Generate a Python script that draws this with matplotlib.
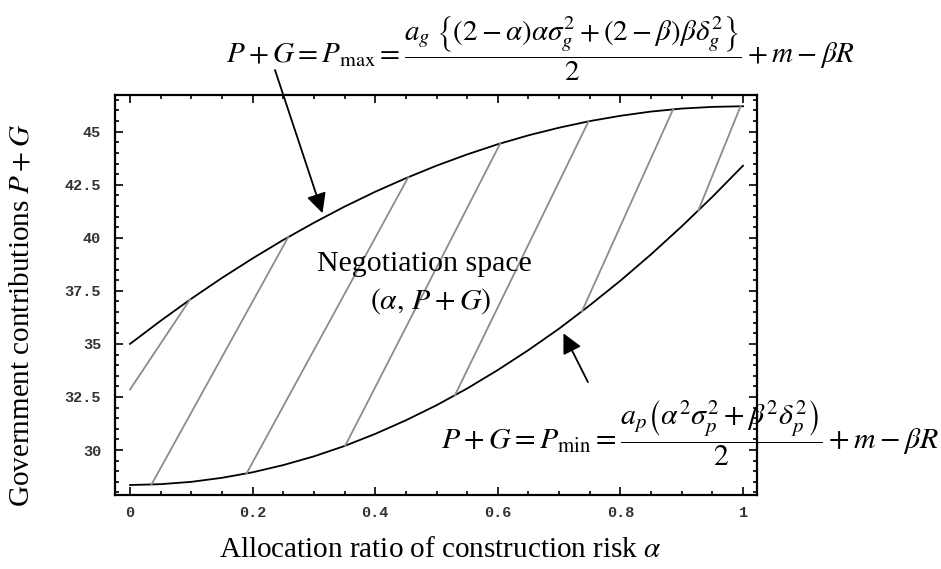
import matplotlib

matplotlib.use("Agg")
import matplotlib.pyplot as plt
from matplotlib.ticker import FixedLocator, MultipleLocator

plt.rcParams["font.family"] = ["Liberation Serif", "DejaVu Serif"]
plt.rcParams["mathtext.fontset"] = "stix"

# boundary curves (alpha step 0.05)
alpha = [0.00, 0.05, 0.10, 0.15, 0.20, 0.25, 0.30, 0.35, 0.40, 0.45, 0.50,
         0.55, 0.60, 0.65, 0.70, 0.75, 0.80, 0.85, 0.90, 0.95, 1.00]
p_max = [35.00, 36.09, 37.13, 38.11, 39.03, 39.90, 40.71, 41.47, 42.17, 42.81,
         43.40, 43.93, 44.41, 44.83, 45.19, 45.50, 45.75, 45.95, 46.09, 46.17,
         46.20]
p_min = [28.35, 28.39, 28.50, 28.69, 28.95, 29.29, 29.70, 30.19, 30.76, 31.40,
         32.11, 32.90, 33.77, 34.71, 35.72, 36.82, 37.98, 39.22, 40.54, 41.93,
         43.40]

# gray hatch segments inside the negotiation space
hatch_a0 = [0.000, 0.035, 0.190, 0.351, 0.530, 0.737, 0.927]
hatch_y0 = [32.85, 28.37, 28.89, 30.20, 32.58, 36.52, 41.28]
hatch_a1 = [0.098, 0.258, 0.454, 0.604, 0.748, 0.886, 0.996]
hatch_y1 = [37.10, 40.03, 42.86, 44.45, 45.49, 46.06, 46.20]

x_ticks = [0, 0.2, 0.4, 0.6, 0.8, 1.0]
x_ticklabels = ["0", "0.2", "0.4", "0.6", "0.8", "1"]
y_ticks = [30, 32.5, 35, 37.5, 40, 42.5, 45]
y_ticklabels = ["30", "32.5", "35", "37.5", "40", "42.5", "45"]

W, H = 941, 569
fig = plt.figure(figsize=(W / 100, H / 100), dpi=100)
ax = fig.add_axes([115 / W, 74 / H, 642 / W, 400 / H])


def fx(px):
    return px / W


def fy(py):
    return 1 - py / H


ax.plot(alpha, p_max, color="black", lw=1.3)
ax.plot(alpha, p_min, color="black", lw=1.3)
for a0, y0, a1, y1 in zip(hatch_a0, hatch_y0, hatch_a1, hatch_y1):
    ax.plot([a0, a1], [y0, y1], color="#8c8c8c", lw=1.3)

ax.set_xlim(-0.0245, 1.0228)
ax.set_ylim(27.88, 46.73)
ax.xaxis.set_major_locator(FixedLocator(x_ticks))
ax.yaxis.set_major_locator(FixedLocator(y_ticks))
ax.xaxis.set_minor_locator(MultipleLocator(0.05))
ax.yaxis.set_minor_locator(MultipleLocator(0.5))
ax.set_xticklabels(x_ticklabels)
ax.set_yticklabels(y_ticklabels)
ax.tick_params(which="both", direction="in", top=True, right=True, width=1.2)
ax.tick_params(which="major", length=6)
ax.tick_params(which="minor", length=3)
ax.tick_params(axis="x", pad=8)
ax.tick_params(axis="y", pad=10)
for lab in ax.get_xticklabels() + ax.get_yticklabels():
    lab.set_fontfamily("Liberation Mono")
    lab.set_fontsize(11)
    lab.set_fontweight("bold")
    lab.set_color("#333333")
for sp in ax.spines.values():
    sp.set_linewidth(1.6)

fs = 21
fig.text(fx(226), fy(49),
         r"$P+G=P_{\max}=\dfrac{a_g\;\left\{(2-\alpha)\alpha\sigma_g^2+(2-\beta)\beta\delta_g^2\right\}}{2}+m-\beta R$",
         fontsize=fs, ha="left", va="center")
fig.text(fx(441), fy(433),
         r"$P+G=P_{\min}=\dfrac{a_p\left(\alpha^2\sigma_p^2+\beta^2\delta_p^2\right)}{2}+m-\beta R$",
         fontsize=21.5, ha="left", va="center")

fig.text(fx(424), fy(264), "Negotiation space", fontsize=21.5, ha="center", va="center")
fig.text(fx(431), fy(301), r"$(\alpha,\, P+G)$", fontsize=21.5, ha="center", va="center")

fig.text(fx(22), fy(315), r"Government contributions $P+G$", fontsize=fs,
         rotation=90, ha="center", va="center")
fig.text(fx(440), fy(550), r"Allocation ratio of construction risk $\alpha$",
         fontsize=fs, ha="center", va="center")

arrow = dict(arrowstyle="-|>", color="black", lw=1.3, mutation_scale=30,
             shrinkA=0, shrinkB=0)
ax.annotate("", xy=(0.314, 41.16), xytext=(275, H - 70),
            textcoords="figure pixels", arrowprops=arrow, annotation_clip=False)
ax.annotate("", xy=(0.707, 35.5), xytext=(0.747, 33.2), arrowprops=arrow)

fig.savefig("out.png", dpi=100)
